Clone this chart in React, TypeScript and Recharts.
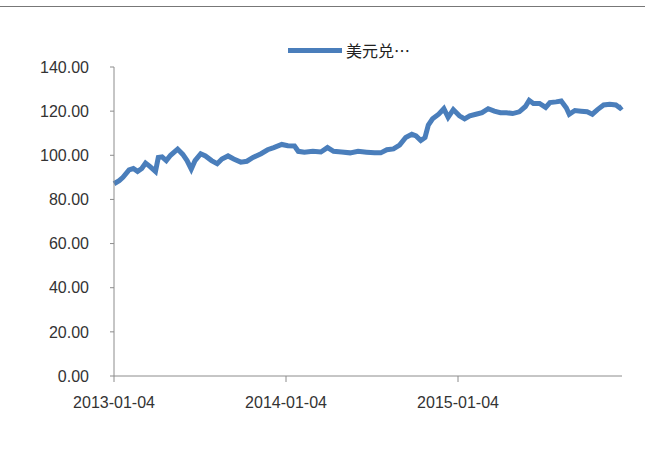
import { Legend, Line, LineChart, XAxis, YAxis } from "recharts"

// 美元兑日元 走势
const dates = [
  "2013-01-04", "2013-01-15", "2013-01-23", "2013-02-05", "2013-02-14", "2013-02-23", "2013-03-04",
  "2013-03-12", "2013-03-21", "2013-04-02", "2013-04-08", "2013-04-16", "2013-04-25", "2013-05-04",
  "2013-05-19", "2013-05-30", "2013-06-08", "2013-06-17", "2013-06-25", "2013-07-07", "2013-07-17",
  "2013-07-30", "2013-08-11", "2013-08-21", "2013-09-03", "2013-09-15", "2013-09-30", "2013-10-13",
  "2013-10-26", "2013-11-12", "2013-11-26", "2013-12-09", "2013-12-26", "2014-01-08", "2014-01-22",
  "2014-01-30", "2014-02-12", "2014-03-02", "2014-03-19", "2014-04-02", "2014-04-15", "2014-05-02",
  "2014-05-20", "2014-06-06", "2014-06-24", "2014-07-11", "2014-07-24", "2014-08-06", "2014-08-20",
  "2014-09-02", "2014-09-15", "2014-09-28", "2014-10-07", "2014-10-17", "2014-10-26", "2014-11-02",
  "2014-11-11", "2014-11-24", "2014-12-05", "2014-12-14", "2014-12-25", "2015-01-07", "2015-01-18",
  "2015-01-29", "2015-02-11", "2015-02-24", "2015-03-09", "2015-03-22", "2015-04-04", "2015-04-17",
  "2015-04-30", "2015-05-14", "2015-05-27", "2015-06-04", "2015-06-13", "2015-06-26", "2015-07-09",
  "2015-07-18", "2015-07-31", "2015-08-11", "2015-08-22", "2015-08-28", "2015-09-09", "2015-09-22",
  "2015-10-05", "2015-10-16", "2015-10-27", "2015-11-09", "2015-11-22", "2015-12-05", "2015-12-14",
  "2015-12-18",
]

const usdJpy = [
  87.1, 88.5, 90.0, 93.4, 94.0, 92.7, 94.0,
  96.5, 95.0, 92.7, 99.0, 99.3, 97.6, 100.0,
  102.8, 100.4, 97.6, 93.7, 97.6, 100.7, 99.7,
  97.6, 96.2, 98.3, 99.7, 98.3, 96.9, 97.3,
  99.0, 100.7, 102.5, 103.5, 104.9, 104.3, 104.2,
  101.8, 101.4, 101.8, 101.5, 103.5, 101.8, 101.5,
  101.1, 101.8, 101.4, 101.1, 101.1, 102.5, 102.9,
  104.6, 108.1, 109.5, 108.8, 106.7, 108.1, 113.7,
  116.5, 118.6, 121.1, 117.2, 120.7, 117.9, 116.5,
  117.9, 118.6, 119.3, 121.1, 120.0, 119.3, 119.3,
  118.9, 119.7, 122.1, 124.9, 123.5, 123.5, 121.7,
  123.9, 124.2, 124.6, 121.4, 118.6, 120.3, 120.0,
  119.7, 118.6, 120.7, 122.8, 123.1, 122.8, 121.4,
  122.1,
]

const xTicks = ["2013-01-04", "2014-01-04", "2015-01-04"]
const yTicks = [0, 20, 40, 60, 80, 100, 120, 140]

const toTime = (s: string) => Date.parse(s + "T00:00:00Z")

const data = dates.map((d, i) => ({ t: toTime(d), value: usdJpy[i] }))

const fmtDate = (t: number) => new Date(t).toISOString().slice(0, 10)

const lineColor = "#4a7ebb"
const axisColor = "#8c8c8c"
const font = "'Liberation Sans', Arial, sans-serif"

// y tick label placed further left of the axis, like the original
const YTick = (props: any) => {
  const { x, y, payload } = props
  return (
    <text x={x - 19} y={y} dy="0.355em" textAnchor="end" fill="#333" fontSize={16} fontFamily={font}>
      {Number(payload.value).toFixed(2)}
    </text>
  )
}

const LegendBox = () => (
  <div style={{ display: "flex", alignItems: "center", fontFamily: "'Noto Sans CJK SC', sans-serif", fontSize: 16, color: "#222" }}>
    <span style={{ display: "inline-block", width: 54, height: 5, background: lineColor, marginRight: 4 }} />
    <span>美元兑…</span>
  </div>
)

export default function App() {
  return (
    <div style={{ position: "absolute", left: 0, top: 0, width: 645, height: 456, background: "#fff" }}>
      <div style={{ position: "absolute", left: 0, top: 6, width: 645, height: 1, background: "#777" }} />
      <LineChart width={645} height={456} data={data} margin={{ top: 43, right: 23, left: 0, bottom: 50 }}>
        <XAxis
          dataKey="t"
          type="number"
          scale="time"
          domain={["dataMin", "dataMax"]}
          ticks={xTicks.map(toTime)}
          tickFormatter={fmtDate}
          stroke={axisColor}
          tickSize={6}
          tickMargin={15}
          height={30}
          tick={{ fill: "#333", fontSize: 16, fontFamily: font }}
        />
        <YAxis
          domain={[0, 140]}
          ticks={yTicks}
          stroke={axisColor}
          tickSize={4}
          width={114}
          tick={<YTick />}
        />
        <Legend
          verticalAlign="top"
          align="left"
          content={() => <LegendBox />}
          wrapperStyle={{ left: 288, top: 38, width: 160 }}
        />
        <Line
          type="linear"
          dataKey="value"
          stroke={lineColor}
          strokeWidth={5}
          dot={false}
          isAnimationActive={false}
        />
      </LineChart>
    </div>
  )
}
